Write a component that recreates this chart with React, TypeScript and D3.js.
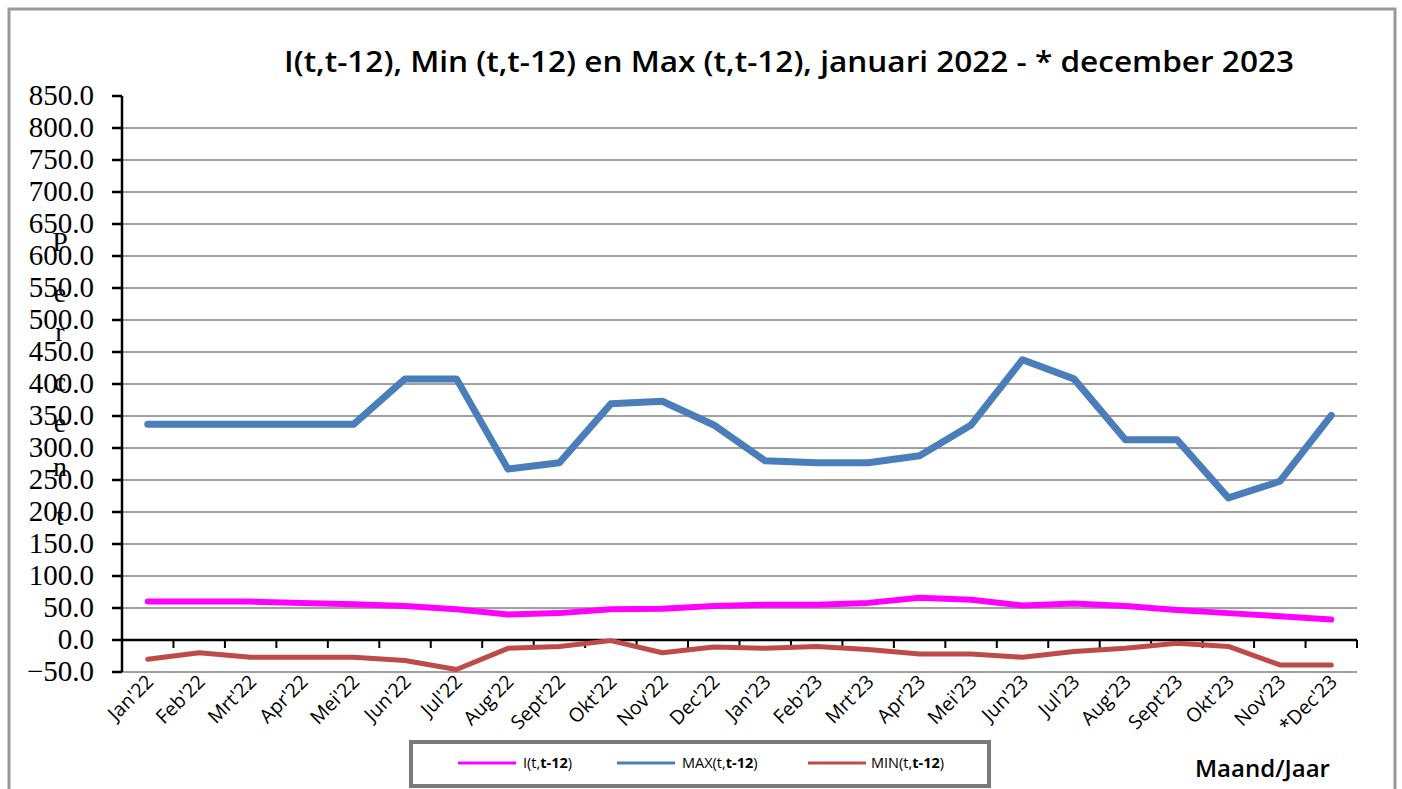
import React from 'react';
import * as d3 from 'd3';

// chart data
const months = ["Jan'22", "Feb'22", "Mrt'22", "Apr'22", "Mei'22", "Jun'22", "Jul'22", "Aug'22", "Sept'22", "Okt'22", "Nov'22", "Dec'22",
  "Jan'23", "Feb'23", "Mrt'23", "Apr'23", "Mei'23", "Jun'23", "Jul'23", "Aug'23", "Sept'23", "Okt'23", "Nov'23", "*Dec'23"];
const indexValues = [60, 60, 60, 58, 56, 53, 48, 40, 42, 48, 49, 53, 55, 55, 58, 66, 63, 54, 57, 53, 47, 42, 37, 32];
const maxValues = [337, 337, 337, 337, 337, 408, 408, 267, 277, 369, 373, 336, 280, 277, 277, 288, 336, 438, 408, 313, 313, 222, 248, 351];
const minValues = [-30, -20, -27, -27, -27, -32, -46, -13, -10, -1, -20, -11, -13, -10, -15, -22, -22, -27, -18, -13, -5, -10, -39, -39];
const yTicks = d3.range(-50, 851, 50);
const percentLetters = ['P', 'e', 'r', 'c', 'e', 'n', 't'];
const percentY = [241, 292, 331, 381, 422, 466, 515];

const left = 122, right = 1357, top = 96, bottom = 672;

const App = () => {
  const x = d3.scaleBand().domain(months).range([left, right]);
  const y = d3.scaleLinear().domain([-50, 850]).range([bottom, top]);
  const cx = (i: number) => (x(months[i]) as number) + x.bandwidth() / 2;

  const line = d3.line<number>()
    .x((d, i) => cx(i))
    .y(d => y(d));

  const series = [
    { name: 'I', values: indexValues, color: '#ff00ff', width: 6 },
    { name: 'MAX', values: maxValues, color: '#4a7ebb', width: 7 },
    { name: 'MIN', values: minValues, color: '#be4b48', width: 5 },
  ];

  const fmt = d3.format('.1f');
  const bandEdges = months.map(m => x(m) as number).concat([right]);

  return (
    <svg width={1402} height={789} style={{ position: 'absolute', left: 0, top: 0, background: '#fff' }}>
      {/* outer frame */}
      <rect x={9} y={9} width={1386} height={800} fill="#fff" stroke="#9a9a9a" strokeWidth={3} />

      <text x={789} y={72} textAnchor="middle" fontFamily="Open Sans, sans-serif" fontWeight={600} fontSize={28}
        textLength={1010} lengthAdjust="spacingAndGlyphs" fill="#000">
        I(t,t-12), Min (t,t-12) en Max (t,t-12), januari  2022 - * december 2023
      </text>

      {/* grid lines */}
      {yTicks.filter(t => t !== 0 && t !== 850).map(t => (
        <line key={t} x1={left} x2={right} y1={y(t)} y2={y(t)} stroke="#a0a0a0" strokeWidth={2} />
      ))}

      {/* y axis */}
      <line x1={left} x2={left} y1={top} y2={bottom} stroke="#000" strokeWidth={2.5} />
      {yTicks.map(t => (
        <g key={t}>
          <line x1={left - 10} x2={left} y1={y(t)} y2={y(t)} stroke="#000" strokeWidth={2.5} />
          <text x={94} y={y(t) + 9} textAnchor="end" fontFamily="Liberation Serif, serif" fontSize={29} fill="#000">
            {fmt(t)}
          </text>
        </g>
      ))}

      {/* vertical "Percent" label */}
      {percentLetters.map((c, i) => (
        <text key={i} x={60} y={percentY[i] + 10} textAnchor="middle" fontFamily="Liberation Serif, serif" fontSize={28} fill="#000">
          {c}
        </text>
      ))}

      {/* x axis at zero */}
      <line x1={left} x2={right} y1={y(0)} y2={y(0)} stroke="#000" strokeWidth={2.5} />
      {bandEdges.map((e, i) => (
        <line key={i} x1={e} x2={e} y1={y(0)} y2={y(0) + 8} stroke="#000" strokeWidth={2} />
      ))}

      {/* series */}
      {series.map(s => (
        <path key={s.name} d={line(s.values) as string} fill="none" stroke={s.color} strokeWidth={s.width}
          strokeLinejoin="round" strokeLinecap="round" />
      ))}

      {/* x tick labels */}
      {months.map((m, i) => (
        <text key={m} transform={`translate(${cx(i) + 7},${683}) rotate(-45)`} textAnchor="end"
          fontFamily="Open Sans, sans-serif" fontSize={19.5} fill="#000">
          {m}
        </text>
      ))}

      {/* legend */}
      <rect x={411} y={742} width={578} height={44} fill="#fff" stroke="#7a7a7a" strokeWidth={4} />
      {[
        { label: 'I', color: '#ff00ff', x1: 458, tx: 523 },
        { label: 'MAX', color: '#4a7ebb', x1: 617, tx: 682 },
        { label: 'MIN', color: '#be4b48', x1: 808, tx: 871 },
      ].map(l => (
        <g key={l.label}>
          <line x1={l.x1} x2={l.x1 + 58} y1={763} y2={763} stroke={l.color} strokeWidth={3} />
          <text x={l.tx} y={768} fontFamily="Open Sans, sans-serif" fontSize={14.5} fill="#000">
            {l.label}(t,<tspan fontWeight="bold">t-12</tspan>)
          </text>
        </g>
      ))}

      <text x={1195} y={777} fontFamily="Open Sans, sans-serif" fontWeight={600} fontSize={24} fill="#000">
        Maand/Jaar
      </text>
    </svg>
  );
};

export default App;
